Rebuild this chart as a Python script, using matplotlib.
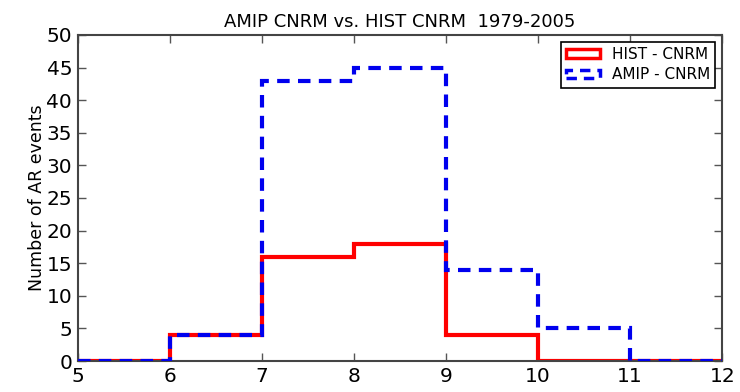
import matplotlib
matplotlib.use("Agg")
import matplotlib.pyplot as plt
from matplotlib.patches import Patch

bin_edges = [5, 6, 7, 8, 9, 10, 11, 12]
hist_cnrm = [0, 4, 16, 18, 4, 0, 0]
amip_cnrm = [0, 4, 43, 45, 14, 5, 0]
x_ticks = [5, 6, 7, 8, 9, 10, 11, 12]
y_ticks = [0, 5, 10, 15, 20, 25, 30, 35, 40, 45, 50]

red = '#ff0000'
blue = '#0000ee'
dash = (0, (3, 2))

fig = plt.figure(figsize=(7.4, 3.92), dpi=100)
ax = fig.add_axes([0.105, 0.079, 0.871, 0.832])

ax.stairs(hist_cnrm, bin_edges, color=red, linewidth=3, zorder=2)
ax.stairs(amip_cnrm, bin_edges, color=blue, linewidth=3, linestyle=dash, zorder=3)

ax.set_xlim(5, 12)
ax.set_ylim(0, 50)
ax.set_xticks(x_ticks)
ax.set_yticks(y_ticks)
ax.tick_params(direction='in', top=True, right=True, length=6, width=1,
               labelsize=14.5, color='#555555', pad=4)
for s in ax.spines.values():
    s.set_color('#444444')
    s.set_linewidth(1.5)

ax.set_title('AMIP CNRM vs. HIST CNRM  1979-2005', fontsize=13, pad=6)
ax.set_ylabel('Number of AR events', fontsize=12.5, labelpad=0)

handles = [Patch(facecolor='white', edgecolor=red, linewidth=2.5, label='HIST - CNRM'),
           Patch(facecolor='white', edgecolor=blue, linewidth=2.5, linestyle=dash,
                 label='AMIP - CNRM')]
leg = ax.legend(handles=handles, loc='upper right', fontsize=11, fancybox=False,
                framealpha=1, edgecolor='black', handlelength=2.2, handleheight=0.5,
                borderpad=0.35, labelspacing=0.35, handletextpad=0.8,
                borderaxespad=0.45)
leg.get_frame().set_linewidth(1.2)

fig.savefig('out.png', dpi=100)
